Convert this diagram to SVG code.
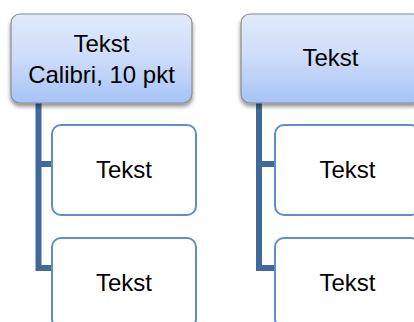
<svg xmlns="http://www.w3.org/2000/svg" width="414" height="322" viewBox="0 0 414 322">
<style>
.top{fill:url(#g);stroke:#8c8c8c;stroke-width:1.2;filter:url(#sh)}
.child{fill:#ffffff;stroke:#5f8dcc;stroke-width:2}
.conn{fill:none;stroke:#41699b;stroke-width:6;stroke-linejoin:miter}
text{font-family:"Liberation Sans",Arial,sans-serif;font-size:24px;fill:#000;text-anchor:middle}
</style>
<defs>
<linearGradient id="g" x1="0" y1="0" x2="0" y2="1">
<stop offset="0" stop-color="#e0eafb"/>
<stop offset="0.5" stop-color="#cddcf9"/>
<stop offset="1" stop-color="#a5c3f6"/>
</linearGradient>
<filter id="sh" x="-10%" y="-10%" width="120%" height="130%">
<feGaussianBlur in="SourceAlpha" stdDeviation="2"/>
<feOffset dx="0" dy="3" result="b"/>
<feComponentTransfer><feFuncA type="linear" slope="0.45"/></feComponentTransfer>
<feMerge><feMergeNode/><feMergeNode in="SourceGraphic"/></feMerge>
</filter>
</defs>
<g id="connectors">
<path class="conn" d="M38.5,103 V268 H53 M38.5,164 H53"/>
<path class="conn" d="M259,103 V268 H276 M259,164 H276"/>
</g>
<g id="child1">
<rect class="child" x="52" y="125" width="144" height="90" rx="9"/>
<text x="124" y="178">Tekst</text>
</g>
<g id="child2">
<rect class="child" x="52" y="238" width="144" height="90" rx="9"/>
<text x="124" y="291">Tekst</text>
</g>
<g id="child3">
<rect class="child" x="275" y="125" width="145" height="90" rx="9"/>
<text x="347.5" y="178">Tekst</text>
</g>
<g id="child4">
<rect class="child" x="275" y="238" width="145" height="90" rx="9"/>
<text x="347.5" y="291">Tekst</text>
</g>
<g id="top1">
<rect class="top" x="11" y="14" width="181" height="89" rx="9"/>
<text x="101.5" y="52">Tekst</text>
<text x="101.5" y="83">Calibri, 10 pkt</text>
</g>
<g id="top2">
<rect class="top" x="241" y="14" width="181" height="89" rx="9"/>
<text x="330.5" y="66">Tekst</text>
</g>
</svg>
